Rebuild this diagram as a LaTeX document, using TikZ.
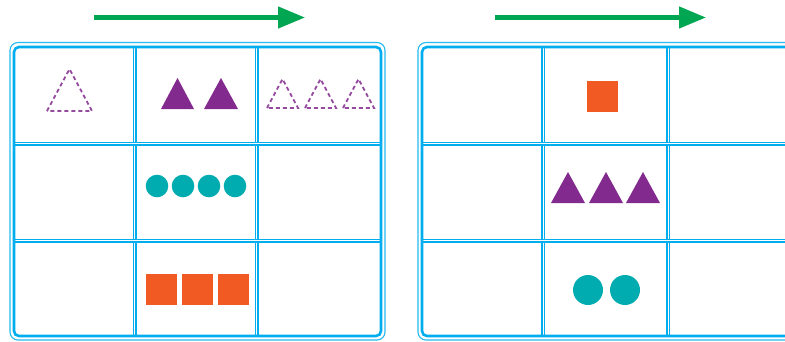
\documentclass[tikz,border=0pt]{standalone}
\usetikzlibrary{arrows.meta}
\definecolor{azul}{HTML}{00AEEF}
\definecolor{verde}{HTML}{00A651}
\definecolor{morado}{HTML}{822A8E}
\definecolor{naranja}{HTML}{F15A22}
\definecolor{turquesa}{HTML}{00ACAF}
\tikzset{
  borde/.style={azul, line width=2.6pt, rounded corners=5pt},
  bordefino/.style={azul!85, line width=1.1pt, rounded corners=8pt},
  rejilla/.style={azul, line width=1.5pt, double=white, double distance=1pt},
  flecha/.style={verde, line width=4.5pt, -{Triangle[length=27pt,width=21pt]}},
  punteado/.style={morado!85, line width=1.8pt, dash pattern=on 4pt off 3pt},
}
\begin{document}
\begin{tikzpicture}[x=1pt,y=-1pt]
    % Marco de la imagen
    \clip (0,0) rectangle (785,341);
    % Flechas verdes
    \draw[flecha] (94,17.5) -- (305,17.5);
    \draw[flecha] (495,17.5) -- (706,17.5);
    % Rejilla izquierda
    \draw[rejilla] (134.5,47) -- (134.5,336);
    \draw[rejilla] (256.5,47) -- (256.5,336);
    \draw[rejilla] (14,143.5) -- (381,143.5);
    \draw[rejilla] (14,240.5) -- (381,240.5);
    \draw[bordefino] (10,42.5) rectangle (385,340);
    \draw[borde] (14,47) rectangle (381,336);
    % Rejilla derecha
    \draw[rejilla] (543,47) -- (543,336);
    \draw[rejilla] (668,47) -- (668,336);
    \draw[rejilla] (422,143.5) -- (800,143.5);
    \draw[rejilla] (422,240.5) -- (800,240.5);
    \draw[bordefino] (418,42.5) rectangle (798,340);
    \draw[borde] (422,47) rectangle (794,336);
    % Izquierda, fila 1: triangulos
    \draw[punteado] (47,111) -- (69.5,69) -- (92,111) -- cycle;
    \fill[morado] (161,109) -- (177.5,78) -- (194,109) -- cycle;
    \fill[morado] (204,109) -- (221,78) -- (238,109) -- cycle;
    \draw[punteado] (267,108) -- (282.5,79) -- (298,108) -- cycle;
    \draw[punteado] (305,108) -- (320.5,79) -- (336,108) -- cycle;
    \draw[punteado] (343,108) -- (358.5,79) -- (374,108) -- cycle;
    % Izquierda, fila 2: circulos
    \fill[turquesa] (157,186) circle (11.3);
    \fill[turquesa] (183,186) circle (11.3);
    \fill[turquesa] (209,186) circle (11.3);
    \fill[turquesa] (235,186) circle (11.3);
    % Izquierda, fila 3: cuadrados
    \fill[naranja] (146,274) rectangle (177,305);
    \fill[naranja] (182,274) rectangle (213,305);
    \fill[naranja] (218,274) rectangle (249,305);
    % Derecha, fila 1: cuadrado
    \fill[naranja] (587,81) rectangle (618,112);
    % Derecha, fila 2: triangulos
    \fill[morado] (551,203) -- (568,172) -- (585,203) -- cycle;
    \fill[morado] (589,203) -- (606,172) -- (623,203) -- cycle;
    \fill[morado] (626,203) -- (643,172) -- (660,203) -- cycle;
    % Derecha, fila 3: circulos
    \fill[turquesa] (588,290) circle (15);
    \fill[turquesa] (625,290) circle (15);
\end{tikzpicture}
\end{document}
